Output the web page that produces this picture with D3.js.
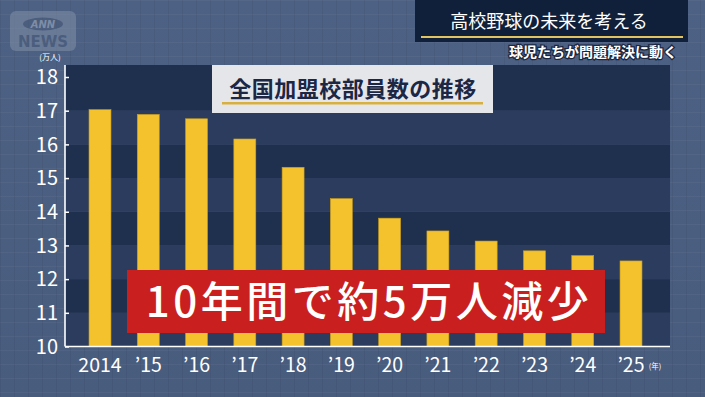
<!DOCTYPE html>
<html>
<head>
<meta charset="utf-8">
<script src="https://cdn.jsdelivr.net/npm/d3@7"></script>
<style>
  html, body { margin: 0; padding: 0; background: #4b5f82; overflow: hidden; }
  svg { display: block; }
</style>
</head>
<body>
<div id="wrapper"></div>
<script>
// data (万人)
const years = ["2014", "’15", "’16", "’17", "’18", "’19", "’20", "’21", "’22", "’23", "’24", "’25"]
const members = [17.03, 16.89, 16.76, 16.16, 15.32, 14.39, 13.81, 13.43, 13.13, 12.84, 12.70, 12.54]
const yTicks = [10, 11, 12, 13, 14, 15, 16, 17, 18]

const pageTitle = "高校野球の未来を考える"
const pageSub = "球児たちが問題解決に動く"
const chartTitle = "全国加盟校部員数の推移"
const banner = "10年間で約5万人減少"

const W = 705, H = 397
const jp = "'Noto Sans CJK JP', 'Noto Sans', sans-serif"

const svg = d3.select("#wrapper").append("svg")
  .attr("width", W).attr("height", H)

// background with soft texture
const defs = svg.append("defs")
const grad = defs.append("linearGradient").attr("id", "bg").attr("x1", 0).attr("y1", 0).attr("x2", 0).attr("y2", 1)
grad.append("stop").attr("offset", "0%").attr("stop-color", "#4d6184")
grad.append("stop").attr("offset", "100%").attr("stop-color", "#485c7e")
svg.append("rect").attr("width", W).attr("height", H).attr("fill", "url(#bg)")

const pat = defs.append("pattern").attr("id", "tex").attr("width", 14).attr("height", 14)
  .attr("patternUnits", "userSpaceOnUse")
pat.append("rect").attr("width", 14).attr("height", 1).attr("fill", "#ffffff").attr("opacity", 0.04)
pat.append("rect").attr("width", 1).attr("height", 14).attr("fill", "#000000").attr("opacity", 0.05)
svg.append("rect").attr("width", W).attr("height", H).attr("fill", "url(#tex)")

// scales
const plot = { left: 65, right: 670, top: 65, bottom: 346.5 }
const y = d3.scaleLinear().domain([10, 18]).range([plot.bottom, 77])
const x = d3.scalePoint().domain(years).range([100, 631])
const barW = x.step() * 0.455

// plot bands
const bands = d3.range(10, 18).map(v => ({ lo: v, hi: v + 1 }))
svg.append("rect")
  .attr("x", plot.left).attr("y", plot.top)
  .attr("width", plot.right - plot.left).attr("height", y(18) - plot.top)
  .attr("fill", "#1f2f4e")
svg.selectAll(".band").data(bands).join("rect")
  .attr("class", "band")
  .attr("x", plot.left)
  .attr("y", d => y(d.hi))
  .attr("width", plot.right - plot.left)
  .attr("height", d => y(d.lo) - y(d.hi))
  .attr("fill", d => d.lo % 2 === 1 ? "#1f2f4e" : "#2b3c5e")

// bars
svg.selectAll(".bar").data(members).join("rect")
  .attr("class", "bar")
  .attr("x", (d, i) => x(years[i]) - barW / 2)
  .attr("y", d => y(d))
  .attr("width", barW)
  .attr("height", d => y(10) - y(d))
  .attr("fill", "#f3c22c")
  .attr("stroke", "#c99c1c")
  .attr("stroke-width", 0.6)

// axes
const yAxis = svg.append("g")
  .attr("transform", `translate(${plot.left},0)`)
  .call(d3.axisRight(y).tickValues(yTicks).tickSize(4).tickFormat(""))
yAxis.select(".domain").remove()
yAxis.selectAll("line").attr("stroke", "#ffffff").attr("stroke-width", 1.5)

svg.append("line")
  .attr("x1", plot.left).attr("x2", plot.left)
  .attr("y1", plot.top).attr("y2", plot.bottom)
  .attr("stroke", "#ffffff").attr("stroke-width", 1.6)
svg.append("line")
  .attr("x1", plot.left).attr("x2", plot.right)
  .attr("y1", plot.bottom).attr("y2", plot.bottom)
  .attr("stroke", "#ffffff").attr("stroke-width", 1.6)

svg.selectAll(".ylab").data(yTicks).join("text")
  .attr("class", "ylab")
  .attr("x", 58).attr("y", d => y(d))
  .attr("dy", "0.36em")
  .attr("text-anchor", "end")
  .attr("fill", "#ffffff")
  .attr("font-family", jp)
  .attr("font-size", 20)
  .text(d => d)

svg.append("text")
  .attr("x", 50).attr("y", 60)
  .attr("text-anchor", "middle")
  .attr("fill", "#ffffff")
  .attr("font-family", jp)
  .attr("font-size", 8)
  .text("(万人)")

svg.selectAll(".xlab").data(years).join("text")
  .attr("class", "xlab")
  .attr("x", d => x(d))
  .attr("y", 372)
  .attr("text-anchor", "middle")
  .attr("fill", "#ffffff")
  .attr("font-family", jp)
  .attr("font-size", 19.5)
  .text(d => d)

svg.append("text")
  .attr("x", 655).attr("y", 369)
  .attr("text-anchor", "middle")
  .attr("fill", "#ffffff")
  .attr("font-family", jp)
  .attr("font-size", 7.5)
  .text("(年)")

// chart title box
svg.append("rect")
  .attr("x", 212).attr("y", 65).attr("width", 281).attr("height", 48)
  .attr("fill", "#e4e6ea")
svg.append("text")
  .attr("x", 353).attr("y", 97)
  .attr("text-anchor", "middle")
  .attr("fill", "#1b2745")
  .attr("font-family", jp)
  .attr("font-weight", 700)
  .attr("font-size", 22)
  .attr("letter-spacing", 0.5)
  .text(chartTitle)
svg.append("rect")
  .attr("x", 222).attr("y", 102).attr("width", 261).attr("height", 2.5)
  .attr("fill", "#d8b040")

// red banner
svg.append("rect")
  .attr("x", 127).attr("y", 270).attr("width", 478).attr("height", 63)
  .attr("fill", "#c9201f")
svg.append("text")
  .attr("x", 369).attr("y", 317)
  .attr("text-anchor", "middle")
  .attr("fill", "#ffffff")
  .attr("font-family", jp)
  .attr("font-weight", 500)
  .attr("font-size", 42)
  .attr("letter-spacing", 3.5)
  .text(banner)

// top right heading
svg.append("rect")
  .attr("x", 415).attr("y", 0).attr("width", 273).attr("height", 42)
  .attr("fill", "#10203b")
svg.append("text")
  .attr("x", 549).attr("y", 28)
  .attr("text-anchor", "middle")
  .attr("fill", "#ffffff")
  .attr("font-family", jp)
  .attr("font-size", 18)
  .text(pageTitle)
svg.append("rect")
  .attr("x", 421).attr("y", 36).attr("width", 262).attr("height", 2)
  .attr("fill", "#e2c361")
svg.append("text")
  .attr("x", 677).attr("y", 57)
  .attr("text-anchor", "end")
  .attr("fill", "#ffffff")
  .attr("stroke", "#1a2640").attr("stroke-width", 2.5).attr("paint-order", "stroke")
  .attr("font-family", jp)
  .attr("font-weight", 700)
  .attr("font-size", 14)
  .text(pageSub)

// ANN NEWS logo
const logo = svg.append("g").attr("opacity", 0.55)
logo.append("rect")
  .attr("x", 10).attr("y", 11).attr("width", 66).attr("height", 40).attr("rx", 6)
  .attr("fill", "#8190a8")
logo.append("ellipse")
  .attr("cx", 43).attr("cy", 24).attr("rx", 20).attr("ry", 6.5)
  .attr("fill", "#4b5c79")
logo.append("text")
  .attr("x", 43).attr("y", 28)
  .attr("text-anchor", "middle")
  .attr("fill", "#a7b2c4")
  .attr("font-family", "'DejaVu Sans', sans-serif")
  .attr("font-style", "italic")
  .attr("font-weight", 700)
  .attr("font-size", 10)
  .text("ANN")
logo.append("text")
  .attr("x", 43).attr("y", 47)
  .attr("text-anchor", "middle")
  .attr("fill", "#4b5c79")
  .attr("font-family", "'DejaVu Sans', sans-serif")
  .attr("font-weight", 700)
  .attr("font-size", 15)
  .text("NEWS")
</script>
</body>
</html>
